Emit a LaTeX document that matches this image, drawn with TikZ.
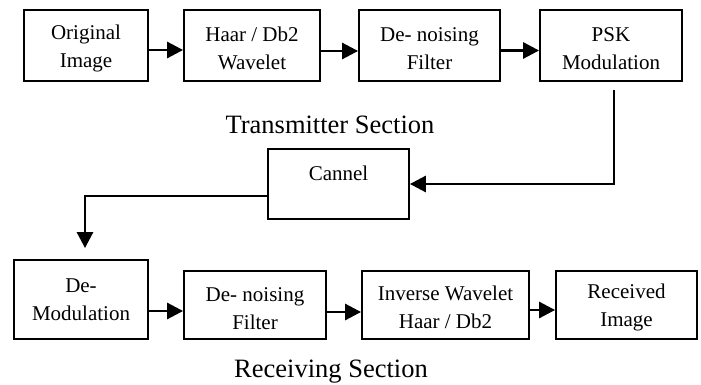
\documentclass[tikz,border=0pt]{standalone}
\usepackage{fontspec}
\setmainfont{Liberation Serif}
\usetikzlibrary{arrows.meta,calc}
\begin{document}
\begin{tikzpicture}[x=1pt,y=-1pt,
  blk/.style={draw, line width=1.8pt, inner sep=0pt},
  txt/.style={inner sep=0pt, align=center, font=\fontsize{21}{28}\selectfont},
  conn/.style={line width=2.8pt, -{Triangle[length=16pt,width=16pt]}},
  sect/.style={font=\fontsize{26.5}{30}\selectfont}]
\useasboundingbox (0,0) rectangle (701,385);
% top row
\node[blk, minimum width=124pt, minimum height=71pt] (orig) at (86,45.5) {};
\node[txt] (origT) at ([yshift=-3pt]orig.center) {Original\\Image};
\node[blk, minimum width=136pt, minimum height=71pt] (haar) at (252,45.5) {};
\node[txt] (haarT) at ([yshift=-3pt]haar.center) {Haar / Db2\\Wavelet};
\node[blk, minimum width=141pt, minimum height=71pt] (den1) at (429.5,45.5) {};
\node[txt] (den1T) at ([yshift=-3pt]den1.center) {De- noising\\Filter};
\node[blk, minimum width=142pt, minimum height=71pt] (psk) at (611,45.5) {};
\node[txt] (pskT) at ([yshift=-3pt]psk.center) {PSK\\Modulation};
\node[sect] (tx) at (330,125) {Transmitter Section};
% channel
\node[blk, minimum width=141pt, minimum height=70pt] (chan) at (338.5,184) {};
\node[txt] (chanT) at ([yshift=11pt]chan.center) {Cannel};
% bottom row
\node[blk, minimum width=134pt, minimum height=79pt] (demod) at (81,299.5) {};
\node[txt] (demodT) at (demod.center) {De-\\Modulation};
\node[blk, minimum width=142pt, minimum height=68pt] (den2) at (255,305) {};
\node[txt] (den2T) at ([yshift=-3.5pt]den2.center) {De- noising\\Filter};
\node[blk, minimum width=167pt, minimum height=68pt] (inv) at (445.5,305) {};
\node[txt] (invT) at ([yshift=-2.5pt]inv.center) {Inverse Wavelet\\Haar / Db2};
\node[blk, minimum width=141pt, minimum height=68pt] (recv) at (626.5,305) {};
\node[txt] (recvT) at ([yshift=-2.5pt]recv.center) {Received\\Image};
\node[sect] (rx) at (331,372) {Receiving Section};
% connectors top
\draw[conn] ([yshift=-4.5pt]orig.east) -- ([yshift=-4.5pt]orig.east -| haar.west);
\draw[conn] ([yshift=-5.5pt]haar.east) -- ([yshift=-5.5pt]haar.east -| den1.west);
\draw[conn] ([yshift=-5pt]den1.east) -- ([yshift=-5pt]den1.east -| psk.west);
% psk -> channel
\draw[conn] ([xshift=3pt,yshift=-8pt]psk.south) |- (chan.east);
% channel -> demod
\coordinate (dtip) at ([xshift=4pt,yshift=11pt]demod.north);
\draw[conn] ([yshift=-12pt]chan.west) -| (dtip);
% connectors bottom
\draw[conn] ([yshift=-11.5pt]demod.east) -- ([yshift=-11.5pt]demod.east -| den2.west);
\draw[conn] ([yshift=-7pt]den2.east) -- ([yshift=-7pt]den2.east -| inv.west);
\draw[conn] ([yshift=-5pt]inv.east) -- ([yshift=-5pt]inv.east -| recv.west);
\end{tikzpicture}
\end{document}
